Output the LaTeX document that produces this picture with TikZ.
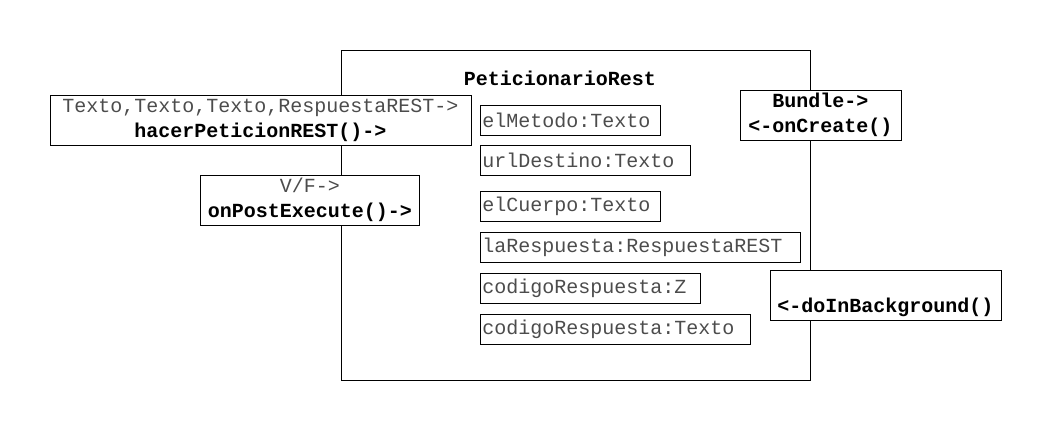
\documentclass[tikz,border=0pt]{standalone}
\usepackage{fontspec}
\setmonofont{Liberation Mono}
\usetikzlibrary{positioning}
\tikzset{
  caja/.style={draw, fill=white, align=center, inner sep=0pt,
    font=\ttfamily\fontsize{10}{12.5}\selectfont},
  atributo/.style={draw, fill=white, text width=#1, align=left,
    inner xsep=1pt, inner ysep=0pt, minimum height=15pt, text=black!70,
    font=\ttfamily\fontsize{10}{12}\selectfont},
}
\begin{document}
\begin{tikzpicture}[x=0.5pt,y=-0.5pt]
  \useasboundingbox (0,0) rectangle (1051,431);

  % clase
  \node[draw, minimum width=234.5pt, minimum height=165pt] (clase) at (575.5,215) {};
  \node[font=\ttfamily\bfseries\fontsize{10}{12}\selectfont, inner sep=0pt] (titulo) at (560,78) {PeticionarioRest};

  % atributos
  \node[atributo=88pt, anchor=west] (a1) at (480,120) {elMetodo:Texto};
  \node[atributo=103pt, below right=5pt and 0pt of a1.south west] (a2) {urlDestino:Texto};
  \node[atributo=88pt, below right=7.5pt and 0pt of a2.south west] (a3) {elCuerpo:Texto};
  \node[atributo=158pt, below right=5pt and 0pt of a3.south west] (a4) {laRespuesta:RespuestaREST};
  \node[atributo=108pt, below right=5pt and 0pt of a4.south west] (a5) {codigoRespuesta:Z};
  \node[atributo=133pt, below right=5pt and 0pt of a5.south west] (a6) {codigoRespuesta:Texto};

  % metodos
  \node[caja, minimum width=210.5pt, minimum height=24.5pt] (peticion) at (260.5,120.5)
    {\strut\textcolor{black!70}{Texto,Texto,Texto,RespuestaREST->}\\\strut\textbf{hacerPeticionREST()->}};
  \node[caja, minimum width=109.5pt, minimum height=24.5pt] (post) at (310,200.5)
    {\strut\textcolor{black!70}{V/F->}\\\strut\textbf{onPostExecute()->}};
  \node[caja, minimum width=80.5pt, minimum height=25pt] (create) at (820.5,115)
    {\strut\textbf{Bundle->}\\\strut\textbf{<-onCreate()}};
  \node[caja, minimum width=115.5pt, minimum height=25pt] (background) at (885.5,295)
    {\strut\\\strut\textbf{<-doInBackground()}};
\end{tikzpicture}
\end{document}
